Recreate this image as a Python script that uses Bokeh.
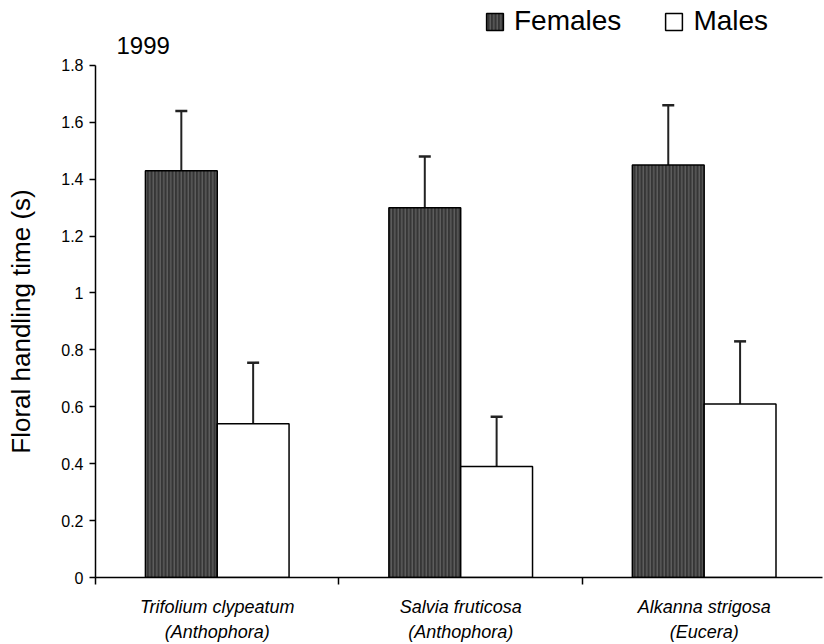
from bokeh.plotting import figure
from bokeh.models import (Range1d, FixedTicker, CustomJSTickFormatter, Legend, LegendItem,
                          ColumnDataSource, Label)
from bokeh.embed import file_html
from bokeh.resources import INLINE

categories = ["Trifolium clypeatum\n(Anthophora)", "Salvia fruticosa\n(Anthophora)", "Alkanna strigosa\n(Eucera)"]
females = [1.43, 1.30, 1.45]
females_err_top = [1.64, 1.48, 1.66]
males = [0.54, 0.39, 0.61]
males_err_top = [0.755, 0.565, 0.83]
y_ticks = [0, 0.2, 0.4, 0.6, 0.8, 1.0, 1.2, 1.4, 1.6, 1.8]
year = "1999"
y_title = "Floral handling time (s)"

bar_w = 0.295
centers = [i + 0.5 for i in range(len(categories))]
fx = [c - bar_w / 2 for c in centers]
mx = [c + bar_w / 2 for c in centers]

# frame spans the full height above the x axis so the legend and year label are not clipped;
# the y axis itself is bounded to 0..1.8
y_top = 1.8 * 578 / 513

p = figure(width=824, height=644, output_backend="svg", toolbar_location=None,
           x_range=Range1d(0, 2.986), y_range=Range1d(0, y_top),
           min_border_left=95, min_border_right=2, min_border_top=0, min_border_bottom=66)
p.outline_line_color = None
p.xgrid.visible = False
p.ygrid.visible = False
p.background_fill_color = "white"

fsrc = ColumnDataSource(dict(x=fx, top=females, err=females_err_top))
msrc = ColumnDataSource(dict(x=mx, top=males, err=males_err_top))

# error bars (upper only)
for src in (fsrc, msrc):
    p.segment(x0="x", y0="top", x1="x", y1="err", source=src, line_color="#222222", line_width=2)
    p.scatter(x="x", y="err", source=src, marker="dash", size=12, line_color="#222222", line_width=2.5)

rf = p.vbar(x="x", top="top", width=bar_w, bottom=0, source=fsrc,
            fill_color="#363636", line_color="black", line_width=1.5,
            hatch_pattern="|", hatch_color="#6e6e6e", hatch_scale=3.5, hatch_weight=1)
rm = p.vbar(x="x", top="top", width=bar_w, bottom=0, source=msrc,
            fill_color="white", line_color="black", line_width=1.5)

# axes
xa = p.xaxis[0]
xa.ticker = FixedTicker(ticks=centers, minor_ticks=[0, 1, 2])
xa.major_label_overrides = {c: lab for c, lab in zip(centers, categories)}
xa.major_tick_out = 0
xa.major_tick_in = 0
xa.minor_tick_out = 7
xa.minor_tick_in = 0
xa.minor_tick_line_color = "black"
xa.minor_tick_line_width = 1.5
xa.axis_line_width = 1.5
xa.axis_line_color = "black"
xa.major_label_text_font = "Liberation Sans"
xa.major_label_text_font_style = "italic"
xa.major_label_text_font_size = "18px"
xa.major_label_text_color = "black"
xa.major_label_standoff = 12
xa.major_label_text_line_height = 1.25

ya = p.yaxis[0]
ya.ticker = FixedTicker(ticks=y_ticks, minor_ticks=[])
ya.bounds = (0, 1.8)
ya.formatter = CustomJSTickFormatter(code="return (Math.round(tick*10)/10).toString();")
ya.major_tick_out = 6
ya.major_tick_in = 0
ya.major_tick_line_width = 1.5
ya.axis_line_width = 1.5
ya.axis_line_color = "black"
ya.major_label_text_font = "Liberation Sans"
ya.major_label_text_font_size = "16px"
ya.major_label_text_color = "black"
ya.major_label_standoff = 6
# trailing no-break spaces shift the centred label down to the middle of the 0-1.8 axis
ya.axis_label = y_title + "\u00a0" * 9
ya.axis_label_text_font = "Liberation Sans"
ya.axis_label_text_font_style = "normal"
ya.axis_label_text_font_size = "26px"
ya.axis_label_text_color = "black"
ya.axis_label_standoff = 22

p.add_layout(Label(x=0.086, y=1.870, text=year, text_font="Liberation Sans",
                   text_font_size="24px", text_color="black", text_baseline="alphabetic"))

legend = Legend(items=[LegendItem(label="Females", renderers=[rf]),
                       LegendItem(label="Males", renderers=[rm])],
                orientation="horizontal", location=(389, 540),
                label_text_font="Liberation Sans", label_text_font_size="28px",
                label_text_color="black", glyph_width=21, glyph_height=21,
                label_height=28, label_standoff=9, spacing=42, padding=0, margin=0,
                border_line_color=None, background_fill_alpha=0)
p.add_layout(legend, "center")

open("out.html", "w").write(file_html(p, INLINE))
